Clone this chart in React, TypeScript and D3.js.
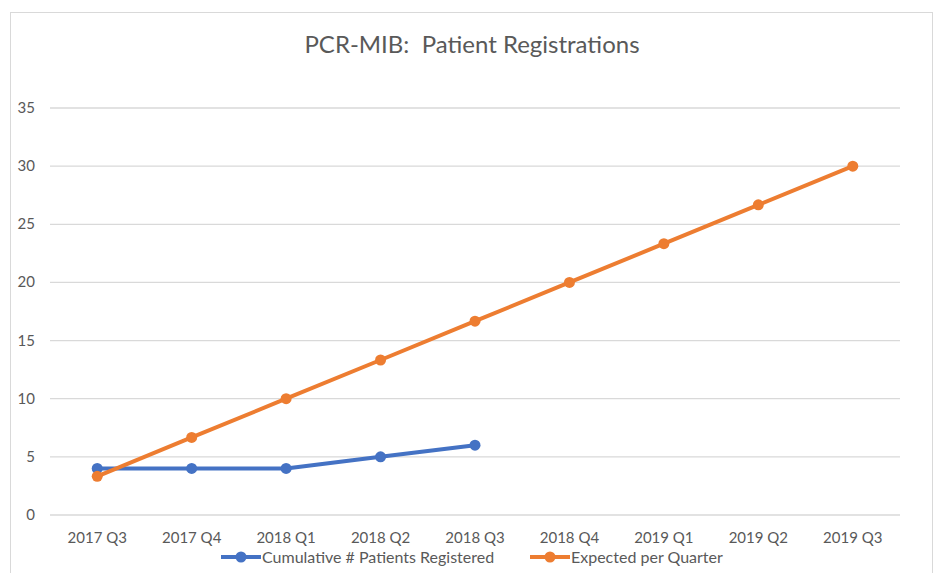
import React from "react";
import * as d3 from "d3";

const quarters = ["2017 Q3", "2017 Q4", "2018 Q1", "2018 Q2", "2018 Q3", "2018 Q4", "2019 Q1", "2019 Q2", "2019 Q3"];
const cumulative = [4, 4, 4, 5, 6];
const expected = [3.33, 6.67, 10, 13.33, 16.67, 20, 23.33, 26.67, 30];
const yTicks = [0, 5, 10, 15, 20, 25, 30, 35];

const W = 937;
const H = 573;
const FONT = "Lato, 'Open Sans', sans-serif";
const BLUE = "#4472C4";
const ORANGE = "#ED7D31";
const TXT = "#595959";

export default function App() {
  const x = d3.scaleBand<string>().domain(quarters).range([50, 900]).padding(0);
  const y = d3.scaleLinear().domain([0, 35]).range([515, 108]);
  const cx = (q: string) => (x(q) ?? 0) + x.bandwidth() / 2;

  const line = d3
    .line<number>()
    .x((_, i) => cx(quarters[i]))
    .y((d) => y(d));

  const series = [
    { name: "Cumulative # Patients Registered", values: cumulative, color: BLUE },
    { name: "Expected per Quarter", values: expected, color: ORANGE },
  ];

  const legend = [
    { x: 221, ...series[0] },
    { x: 530, ...series[1] },
  ];

  return (
    <svg width={W} height={H} style={{ position: "absolute", left: 0, top: 0, background: "#fff" }}>
      <rect x={10.5} y={12.5} width={922} height={580} fill="#fff" stroke="#d9d9d9" strokeWidth={1} />
      <text x={472} y={53} textAnchor="middle" fontFamily={FONT} fontSize={24} fill={TXT}>
        PCR-MIB:{"\u00a0\u00a0"}Patient Registrations
      </text>

      {yTicks.map((t) => (
        <g key={t}>
          <line x1={50} x2={900} y1={y(t)} y2={y(t)} stroke="#d9d9d9" strokeWidth={1.3} />
          <text x={35} y={y(t) + 5} textAnchor="end" fontFamily={FONT} fontSize={15} fill={TXT}>
            {t}
          </text>
        </g>
      ))}

      {quarters.map((q) => (
        <text key={q} x={cx(q)} y={543} textAnchor="middle" fontFamily={FONT} fontSize={15} fill={TXT}>
          {q}
        </text>
      ))}

      {series.map((s) => (
        <g key={s.name}>
          <path d={line(s.values) ?? ""} fill="none" stroke={s.color} strokeWidth={4} strokeLinejoin="round" />
          {s.values.map((v, i) => (
            <circle key={i} cx={cx(quarters[i])} cy={y(v)} r={5.5} fill={s.color} />
          ))}
        </g>
      ))}

      {legend.map((l) => (
        <g key={l.name}>
          <line x1={l.x} x2={l.x + 40} y1={557} y2={557} stroke={l.color} strokeWidth={4} />
          <circle cx={l.x + 20} cy={557} r={5.5} fill={l.color} />
          <text x={l.x + 41} y={563} fontFamily={FONT} fontSize={16} fill={TXT}>
            {l.name}
          </text>
        </g>
      ))}
    </svg>
  );
}
